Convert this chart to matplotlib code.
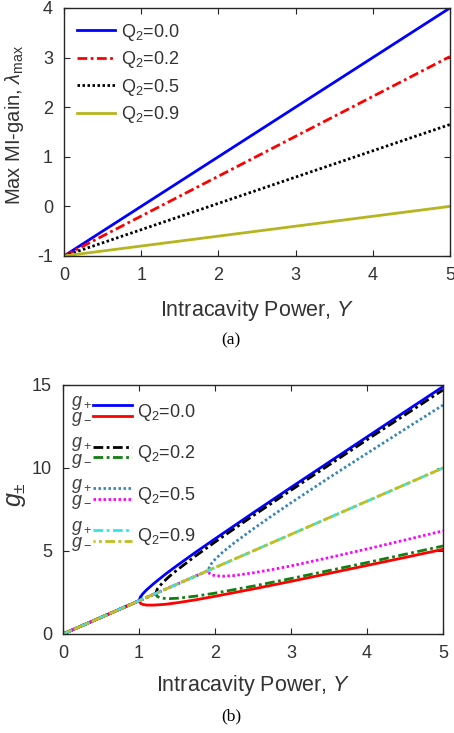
import numpy as np
import matplotlib
matplotlib.use("Agg")
import matplotlib.pyplot as plt
from matplotlib.legend_handler import HandlerBase
from matplotlib.lines import Line2D
from matplotlib.text import Text

plt.rcParams['font.family'] = ['Liberation Sans', 'DejaVu Sans']
plt.rcParams['mathtext.fontset'] = 'custom'
plt.rcParams['mathtext.rm'] = 'Liberation Sans'
plt.rcParams['mathtext.it'] = 'Liberation Sans:italic'
plt.rcParams['mathtext.bf'] = 'Liberation Sans:bold'
plt.rcParams['axes.unicode_minus'] = False
plt.rcParams['lines.scale_dashes'] = False

# (a) maximum MI gain vs intracavity power
q_labels = ["0.0", "0.2", "0.5", "0.9"]
power_a = [0, 5]
gain_q00 = [-1.0, 4.0]
gain_q02 = [-1.0, 3.02]
gain_q05 = [-1.0, 1.65]
gain_q09 = [-1.0, 0.0]

# (b) g+ / g- branches
power_q00 = [0, 1.0, 1.02, 1.05, 1.1, 1.2, 1.35, 1.5, 1.75, 2.0, 2.5, 3.0, 3.5, 4.0, 4.5, 5.0]
gp_q00 = [0, 2.0, 2.24, 2.42, 2.66, 3.06, 3.61, 4.12, 4.94, 5.73, 7.29, 8.83, 10.35, 11.87, 13.39, 14.90]
gm_q00 = [0, 2.0, 1.84, 1.78, 1.74, 1.74, 1.79, 1.88, 2.06, 2.27, 2.71, 3.17, 3.65, 4.13, 4.61, 5.10]

power_q02 = [0, 1.22, 1.24, 1.27, 1.32, 1.4, 1.5, 1.75, 2.0, 2.5, 3.0, 3.5, 4.0, 4.5, 5.0]
gp_q02 = [0, 2.44, 2.70, 2.88, 3.13, 3.47, 3.85, 4.72, 5.54, 7.12, 8.66, 10.18, 11.70, 13.20, 14.70]
gm_q02 = [0, 2.44, 2.26, 2.20, 2.15, 2.13, 2.15, 2.28, 2.46, 2.88, 3.34, 3.82, 4.30, 4.80, 5.30]

power_q05 = [0, 1.91, 1.93, 1.96, 2.0, 2.1, 2.25, 2.5, 2.75, 3.0, 3.5, 4.0, 4.5, 5.0]
gp_q05 = [0, 3.82, 4.09, 4.28, 4.49, 4.92, 5.48, 6.32, 7.12, 7.90, 9.41, 10.88, 12.34, 13.79]
gm_q05 = [0, 3.82, 3.63, 3.56, 3.51, 3.48, 3.52, 3.68, 3.88, 4.10, 4.60, 5.12, 5.66, 6.21]

power_q09 = [0, 5.0]
gp_q09 = [0, 10.0]
gm_q09 = [0, 10.0]

dashdot = (0, (7, 2.5, 2, 2.5))
dashdot2 = (5.5, (7, 2.5, 2, 2.5))
dotted = (0, (1.8, 1.8))
axcol = '0.15'


class HandlerPair(HandlerBase):
    # two stacked sample lines with g+ / g- written to their left
    def create_artists(self, legend, orig_handle, xdescent, ydescent,
                       width, height, fontsize, trans):
        arts = []
        yc = height / 2 - ydescent
        for h, dy in zip(orig_handle, [0.3, -0.3]):
            y = yc + dy * fontsize
            ln = Line2D([-xdescent, width - xdescent], [y, y])
            self.update_prop(ln, h, legend)
            ln.set_transform(trans)
            arts.append(ln)
        t = Text(-xdescent - 1, yc - 0.5, "$g_+$\n$g_-$", ha='right', va='center',
                 fontsize=fontsize, color='0.25', linespacing=0.8)
        t.set_transform(trans)
        arts.append(t)
        return arts


def style_axes(ax):
    for s in ax.spines.values():
        s.set_color(axcol)
        s.set_linewidth(1.0)
    ax.tick_params(direction='in', top=True, right=True, length=4, width=0.8,
                   colors=axcol, labelsize=13, pad=8)
    for lab in ax.get_xticklabels() + ax.get_yticklabels():
        lab.set_color('0.2')


fig = plt.figure(figsize=(4.54, 7.33), dpi=100)

# ---------- (a)
ax1 = fig.add_axes([0.141, 0.6508, 0.850, 0.3383])
ax1.plot(power_a, gain_q00, color='#0000ff', lw=2, label="Q$_2$=" + q_labels[0])
ax1.plot(power_a, gain_q02, color='#ff0000', lw=2, ls=dashdot, label="Q$_2$=" + q_labels[1])
ax1.plot(power_a, gain_q05, color='black', lw=2, ls=dotted, label="Q$_2$=" + q_labels[2])
ax1.plot(power_a, gain_q09, color='#b5b520', lw=2, label="Q$_2$=" + q_labels[3])
ax1.set_xlim(0, 5)
ax1.set_ylim(-1, 4)
ax1.set_xticks(range(0, 6))
ax1.set_yticks(range(-1, 5))
style_axes(ax1)
ax1.set_xlabel("Intracavity Power, $Y$", fontsize=15.5, color='0.2', labelpad=10)
ax1.set_ylabel("Max MI-gain, $\\lambda_{\\rm max}$", fontsize=14.5, color='0.2')
ax1.yaxis.set_label_coords(-0.098, 0.53)
leg1 = ax1.legend(loc='upper left', bbox_to_anchor=(0.034, 0.945), borderaxespad=0,
                  borderpad=0, frameon=False, fontsize=13, handlelength=2.1,
                  handletextpad=0.35, labelspacing=0.36)
for t in leg1.get_texts():
    t.set_color('0.2')

# ---------- (b)
ax2 = fig.add_axes([0.1388, 0.1351, 0.837, 0.3397])
l0p, = ax2.plot(power_q00, gp_q00, color='#0000ff', lw=2)
l0m, = ax2.plot(power_q00, gm_q00, color='#ff0000', lw=2)
l2p, = ax2.plot(power_q02, gp_q02, color='black', lw=2, ls=dashdot)
l2m, = ax2.plot(power_q02, gm_q02, color='#108010', lw=2, ls=dashdot)
l5p, = ax2.plot(power_q05, gp_q05, color='#3a86b8', lw=2, ls=dotted)
l5m, = ax2.plot(power_q05, gm_q05, color='#ff00ff', lw=2, ls=dotted)
l9p, = ax2.plot(power_q09, gp_q09, color='#33e6e6', lw=2, ls=dashdot)
l9m, = ax2.plot(power_q09, gm_q09, color='#bfbf20', lw=2, ls=dashdot2)
ax2.set_xlim(0, 5)
ax2.set_ylim(0, 15)
ax2.set_xticks(range(0, 6))
ax2.set_yticks([0, 5, 10, 15])
style_axes(ax2)
ax2.set_xlabel("Intracavity Power, $Y$", fontsize=15.5, color='0.2', labelpad=8)
ax2.set_ylabel("$g_{\\pm}$", fontsize=18, color='0.2')
ax2.yaxis.set_label_coords(-0.092, 0.558)
pairs = [(l0p, l0m), (l2p, l2m), (l5p, l5m), (l9p, l9m)]
leg2 = ax2.legend(pairs, ["Q$_2$=" + q for q in q_labels],
                  handler_map={tuple: HandlerPair()},
                  loc='upper left', bbox_to_anchor=(0.079, 0.935), borderaxespad=0,
                  borderpad=0, frameon=False, fontsize=13, handlelength=2.15,
                  handleheight=1.2, handletextpad=0.3, labelspacing=1.12)
for t in leg2.get_texts():
    t.set_color('0.2')

fig.text(231 / 454, 1 - 340 / 733, "(a)", family='Liberation Serif', fontsize=12.5,
         ha='center', va='center')
fig.text(231 / 454, 1 - 716 / 733, "(b)", family='Liberation Serif', fontsize=12.5,
         ha='center', va='center')

fig.savefig("out.png", dpi=100)
